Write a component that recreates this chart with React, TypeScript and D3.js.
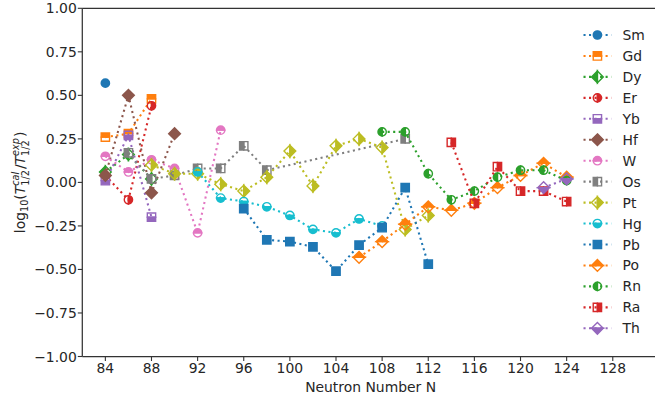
import React, { useEffect, useRef } from "react";
import * as d3 from "d3";

const smN = [84];
const smV = [0.57];
const gdN = [84, 86, 88];
const gdV = [0.26, 0.28, 0.48];
const dyN = [84, 86, 88];
const dyV = [0.06, 0.16, 0.02];
const erN = [84, 86, 88];
const erV = [0.04, -0.1, 0.44];
const ybN = [84, 86, 88];
const ybV = [0.01, 0.27, -0.2];
const hfN = [84, 86, 88, 90];
const hfV = [0.04, 0.5, -0.06, 0.28];
const wN = [84, 86, 88, 90, 92, 94];
const wV = [0.15, 0.06, 0.13, 0.08, -0.29, 0.3];
const osN = [86, 88, 90, 92, 94, 96, 98, 110];
const osV = [0.17, 0.02, 0.04, 0.08, 0.08, 0.21, 0.07, 0.25];
const ptN = [88, 90, 92, 94, 96, 98, 100, 102, 104, 106, 108, 110, 112];
const ptV = [0.1, 0.05, 0.05, -0.01, -0.05, 0.03, 0.18, -0.02, 0.21, 0.25, 0.2, -0.27, -0.19];
const hgN = [92, 94, 96, 98, 100, 102, 104, 106, 108];
const hgV = [0.06, -0.09, -0.11, -0.14, -0.19, -0.27, -0.29, -0.21, -0.25];
const pbN = [96, 98, 100, 102, 104, 106, 108, 110, 112];
const pbV = [-0.15, -0.33, -0.34, -0.37, -0.51, -0.36, -0.26, -0.03, -0.47];
const poN = [106, 108, 110, 112, 114, 116, 118, 120, 122, 124];
const poV = [-0.43, -0.34, -0.24, -0.14, -0.16, -0.12, -0.03, 0.04, 0.11, 0.03];
const rnN = [108, 110, 112, 114, 116, 118, 120, 122, 124];
const rnV = [0.29, 0.29, 0.05, -0.1, -0.05, 0.03, 0.07, 0.07, 0.01];
const raN = [114, 116, 118, 120, 122, 124];
const raV = [0.23, -0.12, 0.09, -0.05, -0.05, -0.11];
const thN = [122, 124];
const thV = [-0.03, 0.02];

const names = ["Sm", "Gd", "Dy", "Er", "Yb", "Hf", "W", "Os", "Pt", "Hg", "Pb", "Po", "Rn", "Ra", "Th"];
const seriesN = [smN, gdN, dyN, erN, ybN, hfN, wN, osN, ptN, hgN, pbN, poN, rnN, raN, thN];
const seriesV = [smV, gdV, dyV, erV, ybV, hfV, wV, osV, ptV, hgV, pbV, poV, rnV, raV, thV];

const xTicks = [84, 88, 92, 96, 100, 104, 108, 112, 116, 120, 124, 128];
const yTicks = [-1, -0.75, -0.5, -0.25, 0, 0.25, 0.5, 0.75, 1];

const palette = ["#1f77b4", "#ff7f0e", "#2ca02c", "#d62728", "#9467bd", "#8c564b", "#e377c2", "#7f7f7f", "#bcbd22", "#17becf"];
const shapes = ["o", "s", "D"];
const fills = ["full", "top", "left", "right", "bottom"];

const W = 655;
const H = 400;
const L = 82.3;
const R = 658.9;
const T = 8.3;
const B = 356.5;
const FS = 13.9;
const TXT = "#262626";

const x = d3.scaleLinear().domain([82, 132]).range([L, R]);
const y = d3.scaleLinear().domain([-1, 1]).range([B, T]);

function halfPaths(shape: string, fill: string): [string, string | null] {
  const r = 4.17;
  const d = 5.89;
  if (shape === "o") {
    const full = `M${-r},0A${r},${r} 0 1 1 ${r},0A${r},${r} 0 1 1 ${-r},0Z`;
    const top = `M${-r},0A${r},${r} 0 0 1 ${r},0Z`;
    const bottom = `M${r},0A${r},${r} 0 0 1 ${-r},0Z`;
    const left = `M0,${r}A${r},${r} 0 0 1 0,${-r}Z`;
    const right = `M0,${-r}A${r},${r} 0 0 1 0,${r}Z`;
    if (fill === "full") return [full, null];
    if (fill === "top") return [top, bottom];
    if (fill === "bottom") return [bottom, top];
    if (fill === "left") return [left, right];
    return [right, left];
  }
  if (shape === "s") {
    const full = `M${-r},${-r}H${r}V${r}H${-r}Z`;
    const top = `M${-r},${-r}H${r}V0H${-r}Z`;
    const bottom = `M${-r},0H${r}V${r}H${-r}Z`;
    const left = `M${-r},${-r}H0V${r}H${-r}Z`;
    const right = `M0,${-r}H${r}V${r}H0Z`;
    if (fill === "full") return [full, null];
    if (fill === "top") return [top, bottom];
    if (fill === "bottom") return [bottom, top];
    if (fill === "left") return [left, right];
    return [right, left];
  }
  const full = `M0,${-d}L${d},0L0,${d}L${-d},0Z`;
  const top = `M${-d},0L0,${-d}L${d},0Z`;
  const bottom = `M${-d},0L0,${d}L${d},0Z`;
  const left = `M0,${-d}L${-d},0L0,${d}Z`;
  const right = `M0,${-d}L${d},0L0,${d}Z`;
  if (fill === "full") return [full, null];
  if (fill === "top") return [top, bottom];
  if (fill === "bottom") return [bottom, top];
  if (fill === "left") return [left, right];
  return [right, left];
}

function Marker({ cx, cy, i }: { cx: number; cy: number; i: number }) {
  const color = palette[i % 10];
  const [p1, p2] = halfPaths(shapes[i % 3], fills[i % 5]);
  return (
    <g transform={`translate(${cx},${cy})`}>
      <path d={p1} fill={color} stroke={color} strokeWidth={1.39} strokeLinejoin="miter" />
      {p2 && <path d={p2} fill="none" stroke={color} strokeWidth={1.39} strokeLinejoin="miter" />}
    </g>
  );
}

function YLabel() {
  const ref = useRef<SVGGElement>(null);
  useEffect(() => {
    const g = d3.select(ref.current);
    g.selectAll("*").remove();
    const small = 9.7;
    const inner = g.append("g");
    let cx = 0;
    const put = (t: string, size: number, dy: number, italic: boolean) => {
      const el = inner
        .append("text")
        .attr("x", cx)
        .attr("y", dy)
        .attr("font-size", size)
        .attr("font-style", italic ? "italic" : "normal")
        .attr("fill", TXT)
        .text(t);
      return (el.node() as SVGTextElement).getComputedTextLength();
    };
    cx += put("log", FS, 0, false);
    cx += put("10", small, 3.2, false);
    cx += put("(", FS, 0, false);
    cx += put("T", FS, 0, true);
    let w1 = put("cal", small, -5.6, true);
    let w2 = put("1/2", small, 4.3, false);
    cx += Math.max(w1, w2) + 1;
    cx += put("/", FS, 0, false);
    cx += put("T", FS, 0, true);
    w1 = put("exp", small, -5.6, true);
    w2 = put("1/2", small, 4.3, false);
    cx += Math.max(w1, w2) + 1;
    cx += put(")", FS, 0, false);
    inner.attr("transform", `translate(${-cx / 2},0)`);
  }, []);
  return <g ref={ref} transform={`translate(25,182.4) rotate(-90)`} fontFamily="DejaVu Sans" />;
}

export default function App() {
  const line = d3
    .line<[number, number]>()
    .x((d) => x(d[0]))
    .y((d) => y(d[1]));
  const legendY0 = 35;
  const legendStep = 20.95;
  return (
    <svg width={W} height={H} style={{ position: "absolute", left: 0, top: 0, background: "#fff" }} fontFamily="DejaVu Sans">
      {/* spines */}
      <line x1={L} x2={L} y1={T} y2={B} stroke="#333" strokeWidth={1.25} />
      <line x1={L} x2={R} y1={T} y2={T} stroke="#333" strokeWidth={1.25} />
      <line x1={L} x2={R} y1={B} y2={B} stroke="#333" strokeWidth={1.25} />
      {/* y ticks */}
      {yTicks.map((v) => (
        <g key={"y" + v}>
          <line x1={L - 4.5} x2={L} y1={y(v)} y2={y(v)} stroke="#333" strokeWidth={1.1} />
          <text x={L - 5.5} y={y(v) + 5} textAnchor="end" fontSize={FS} fill={TXT}>
            {d3.format(".2f")(v).replace("-", "\u2212")}
          </text>
        </g>
      ))}
      {/* x ticks */}
      {xTicks.map((v) => (
        <g key={"x" + v}>
          <line x1={x(v)} x2={x(v)} y1={B} y2={B + 4.5} stroke="#333" strokeWidth={1.1} />
          <text x={x(v)} y={372.5} textAnchor="middle" fontSize={FS} fill={TXT}>
            {v}
          </text>
        </g>
      ))}
      <text x={(L + R) / 2} y={391.5} textAnchor="middle" fontSize={FS} fill={TXT}>
        Neutron Number N
      </text>
      <YLabel />
      {/* series */}
      {names.map((nm, i) => {
        const pts: [number, number][] = seriesN[i].map((n, k) => [n, seriesV[i][k]]);
        const color = palette[i % 10];
        return (
          <g key={nm}>
            <path d={line(pts) || ""} fill="none" stroke={color} strokeWidth={2.08} strokeDasharray="2.08,3.44" />
            {pts.map((p, k) => (
              <Marker key={k} cx={x(p[0])} cy={y(p[1])} i={i} />
            ))}
          </g>
        );
      })}
      {/* legend */}
      {names.map((nm, i) => {
        const ly = legendY0 + i * legendStep;
        const color = palette[i % 10];
        return (
          <g key={"lg" + nm}>
            <line x1={583.5} x2={611.3} y1={ly} y2={ly} stroke={color} strokeWidth={2.08} strokeDasharray="2.08,3.44" />
            <Marker cx={597.4} cy={ly} i={i} />
            <text x={622.5} y={ly + 5} fontSize={FS} fill={TXT}>
              {nm}
            </text>
          </g>
        );
      })}
    </svg>
  );
}
